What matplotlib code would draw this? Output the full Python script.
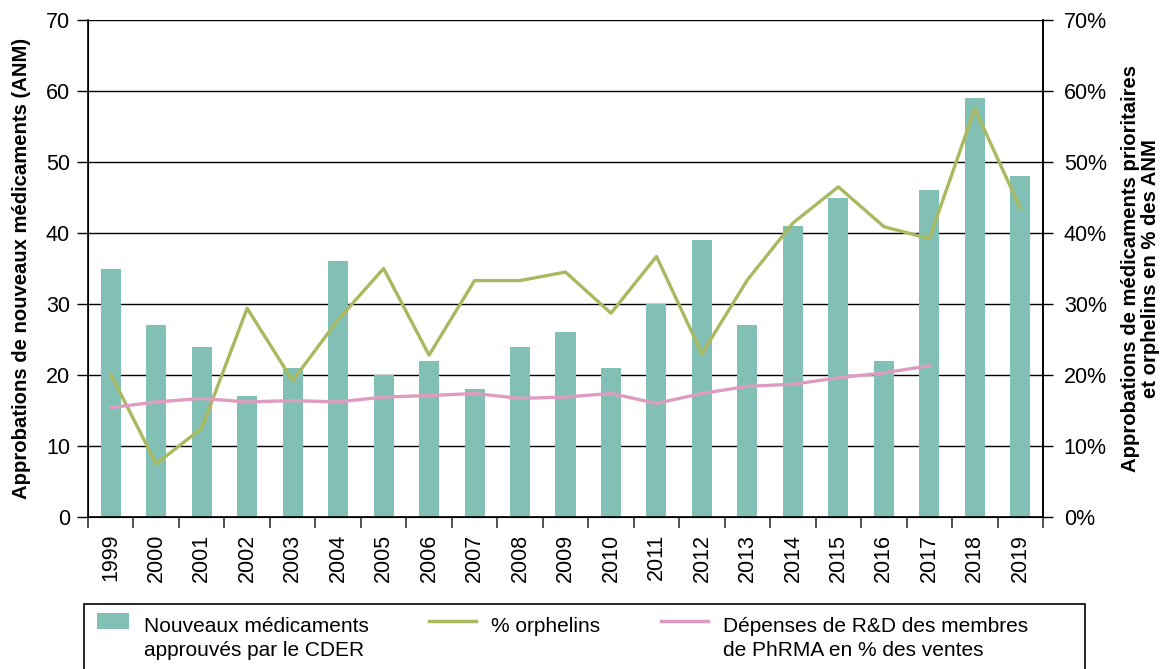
import matplotlib
matplotlib.use("Agg")
import matplotlib.pyplot as plt
from matplotlib.patches import Patch, Rectangle
from matplotlib.lines import Line2D
from matplotlib.legend_handler import HandlerPatch, HandlerBase
import numpy as np

years = [str(y) for y in range(1999, 2020)]
new_drugs = [35, 27, 24, 17, 21, 36, 20, 22, 18, 24, 26, 21, 30, 39, 27, 41, 45, 22, 46, 59, 48]
orphan_pct = [20.1, 7.5, 12.5, 29.4, 19.2, 27.8, 35.0, 22.8, 33.3, 33.3, 34.5, 28.7, 36.7, 23.0,
              33.4, 41.4, 46.5, 40.9, 39.2, 57.5, 43.5]
rd_pct = [15.4, 16.2, 16.7, 16.2, 16.4, 16.2, 16.9, 17.1, 17.4, 16.7, 16.9, 17.4, 16.0, 17.4,
          18.4, 18.7, 19.6, 20.3, 21.3]

plt.rcParams['font.family'] = ['Liberation Sans', 'DejaVu Sans']

BAR = '#82c0b5'
GREEN = '#a8b95f'
PINK = '#de9cc0'
TICK_FS = 15.5
LABEL_FS = 14.6
LEG_FS = 15
PX = 72 / 100  # points per pixel

fig = plt.figure(figsize=(11.63, 6.69), dpi=100)
ax = fig.add_axes([88/1163, 1-517/669, (1043-88)/1163, (517-20)/669])
x = np.arange(len(years))
ax.bar(x, new_drugs, width=0.44, color=BAR, zorder=2)
ax.set_xlim(-0.5, len(years)-0.5)
ax.set_ylim(0, 70)
ax.set_yticks(range(0, 71, 10))
ax.grid(axis='y', color='black', linewidth=1.0, zorder=0)
ax.set_axisbelow(True)
ax.set_xticks(x)
ax.set_xticklabels(years, rotation=90, fontsize=TICK_FS)
ax.set_xticks(np.arange(-0.5, len(years)), minor=True)
ax.tick_params(axis='x', which='major', length=0, pad=12)
ax.tick_params(axis='x', which='minor', length=8, width=1.2, color='#333333')
ax.tick_params(axis='y', labelsize=TICK_FS, length=8, width=1, pad=5, direction='out')
ax.set_ylabel('Approbations de nouveaux médicaments (ANM)', fontsize=LABEL_FS,
              fontweight='bold', labelpad=11)
for s in ['left', 'right', 'bottom']:
    ax.spines[s].set_color('black')
    ax.spines[s].set_linewidth(1.2)
ax.spines['top'].set_visible(False)

ax2 = ax.twinx()
ax2.plot(x, orphan_pct, color=GREEN, linewidth=2.4, zorder=3)
ax2.plot(x[:len(rd_pct)], rd_pct, color=PINK, linewidth=2.4, zorder=3)
ax2.set_ylim(0, 70)
ax2.set_yticks(range(0, 71, 10))
ax2.set_yticklabels([f'{v}%' for v in range(0, 71, 10)])
ax2.tick_params(axis='y', labelsize=TICK_FS, length=7, width=1, pad=8, direction='out')
ax2.set_ylabel('Approbations de médicaments prioritaires\net orphelins en % des ANM',
               fontsize=LABEL_FS, fontweight='bold', labelpad=10, linespacing=1.1)
ax2.spines['top'].set_visible(False)
ax2.spines['right'].set_linewidth(1.2)

LINE_OFF = 12.5  # points: shift handles up to the first text line


def small_patch(legend, orig_handle, xdescent, ydescent, width, height, fontsize):
    return Rectangle((-xdescent, -ydescent + LINE_OFF), width, height)


class LineHandler(HandlerBase):
    def create_artists(self, legend, orig_handle, xdescent, ydescent, width, height,
                       fontsize, trans):
        y = height / 2 - ydescent + LINE_OFF
        ln = Line2D([-xdescent - 15 * PX, width - xdescent], [y, y],
                    color=orig_handle.get_color(), linewidth=orig_handle.get_linewidth(),
                    transform=trans)
        return [ln]


handles = [Patch(facecolor=BAR, edgecolor='none'),
           Line2D([], [], color=GREEN, linewidth=2.5),
           Line2D([], [], color=PINK, linewidth=2.5)]
labels = ['Nouveaux médicaments\napprouvés par le CDER', '% orphelins\n ',
          'Dépenses de R&D des membres\nde PhRMA en % des ventes']
leg = fig.legend(handles, labels, loc='upper left', bbox_to_anchor=(84/1163, 1-604/669),
                 ncol=3, fontsize=LEG_FS, frameon=False,
                 handlelength=32 * PX / LEG_FS, handleheight=0.75,
                 handletextpad=15 * PX / LEG_FS, columnspacing=3.63,
                 borderpad=0.6, borderaxespad=0,
                 handler_map={Patch: HandlerPatch(patch_func=small_patch),
                              Line2D: LineHandler()})
for t in leg.get_texts():
    t.set_linespacing(1.35)

frame = Rectangle((84/1163, -0.02), (1085-84)/1163, (669-604)/669 + 0.02,
                  transform=fig.transFigure, fill=False, edgecolor='black', linewidth=1.2)
fig.patches.append(frame)

fig.savefig('out.png', dpi=100)
